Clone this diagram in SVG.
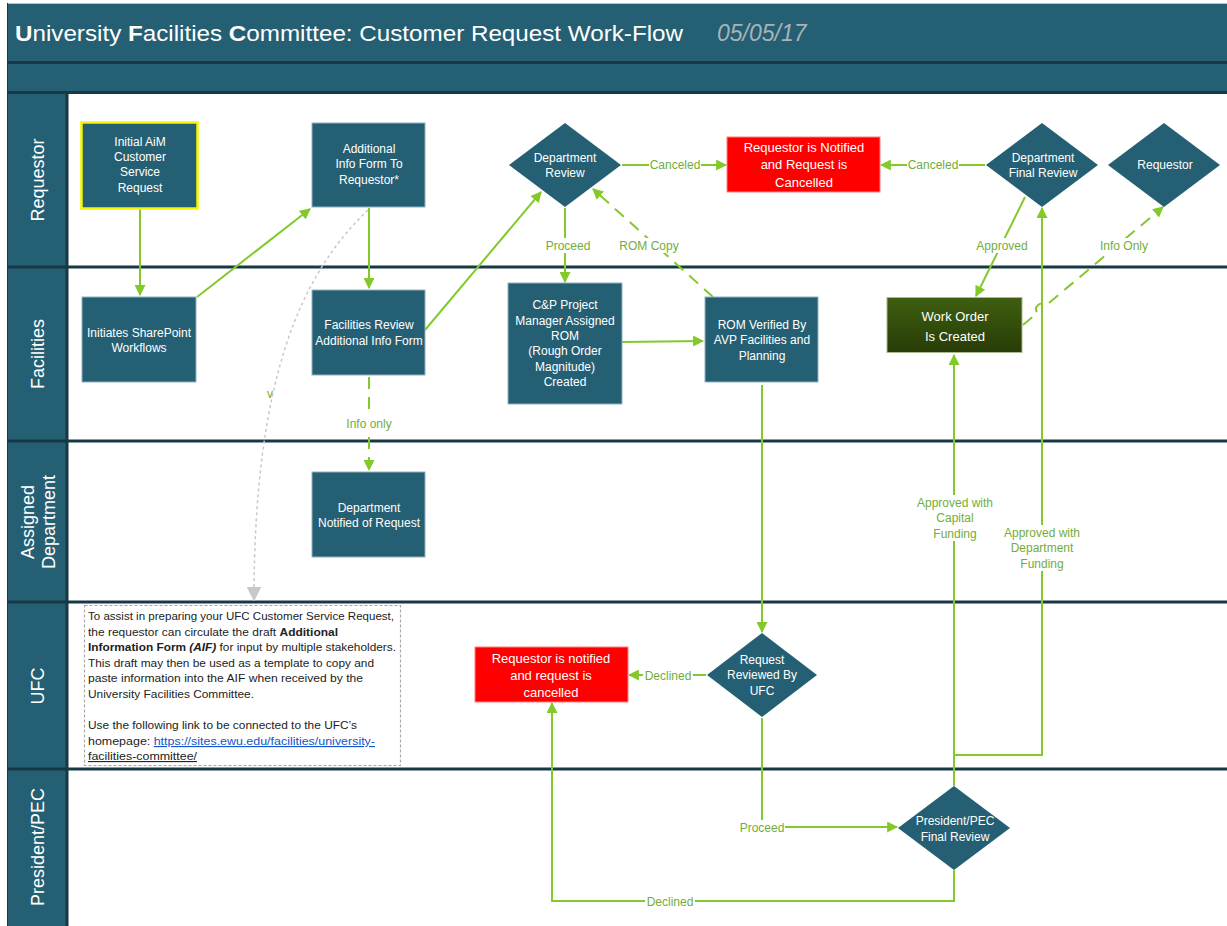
<svg xmlns="http://www.w3.org/2000/svg" width="1227" height="926" viewBox="0 0 1227 926">
<style>
.bg{fill:#ffffff}
.bar{fill:#255f73}
.dl{stroke:#173845;stroke-width:3}
.node{fill:#255f73;stroke:#8fb1bd;stroke-width:1}
.red{fill:#ff0000;stroke:#ff8080;stroke-width:1}
.nt{font-family:"Liberation Sans",Arial,sans-serif;font-size:12px;fill:#ffffff;text-anchor:middle}
.rt{font-family:"Liberation Sans",Arial,sans-serif;font-size:13px;fill:#ffffff;text-anchor:middle}
.lane{font-family:"Liberation Sans",Arial,sans-serif;font-size:18px;fill:#ffffff;text-anchor:middle}
.c{fill:none;stroke:#84c92a;stroke-width:2}
.cd{fill:none;stroke:#84c92a;stroke-width:2;stroke-dasharray:12 8}
.lb{font-family:"Liberation Sans",Arial,sans-serif;font-size:12px;fill:#72ad3a;text-anchor:middle}
.lbbg{fill:#ffffff}
.note{font-family:"Liberation Sans",Arial,sans-serif;font-size:11.3px;fill:#222222}
</style>
<defs>
<marker id="ah" viewBox="0 0 10 10" refX="9" refY="5" markerWidth="5.5" markerHeight="5.5" orient="auto" markerUnits="strokeWidth">
<path d="M0,0 L10,5 L0,10 z" fill="#84c92a"/>
</marker>
<marker id="ag" viewBox="0 0 10 10" refX="9" refY="5" markerWidth="10" markerHeight="10" orient="auto" markerUnits="strokeWidth">
<path d="M0,0 L10,5 L0,10 z" fill="#c8c8c8"/>
</marker>
<linearGradient id="wg" x1="0" y1="0" x2="0" y2="1">
<stop offset="0" stop-color="#3e5f10"/>
<stop offset="1" stop-color="#283c07"/>
</linearGradient>
</defs>
<rect class="bg" x="0" y="0" width="1227" height="926"/>
<g id="frame">
<rect x="7" y="3" width="1220" height="923" fill="#255f73"/>
<rect x="68" y="93" width="1159" height="833" fill="#ffffff"/>
<line x1="7" y1="3.5" x2="1227" y2="3.5" stroke="#b8c4c8" stroke-width="1"/>
<line class="dl" x1="7" y1="62.5" x2="1227" y2="62.5"/>
<line class="dl" x1="7" y1="92.5" x2="1227" y2="92.5"/>
<line class="dl" x1="7" y1="267" x2="1227" y2="267"/>
<line class="dl" x1="7" y1="441" x2="1227" y2="441"/>
<line class="dl" x1="7" y1="602" x2="1227" y2="602"/>
<line class="dl" x1="7" y1="769" x2="1227" y2="769"/>
<line class="dl" x1="67" y1="92" x2="67" y2="926"/>
<line x1="7.5" y1="3" x2="7.5" y2="926" stroke="#173845" stroke-width="1"/>
<text x="15" y="41" font-family="Liberation Sans,Arial,sans-serif" font-size="22" fill="#ffffff" textLength="668" lengthAdjust="spacingAndGlyphs"><tspan font-weight="bold">U</tspan>niversity <tspan font-weight="bold">F</tspan>acilities <tspan font-weight="bold">C</tspan>ommittee: Customer Request Work-Flow</text>
<text x="717" y="41" font-family="Liberation Sans,Arial,sans-serif" font-size="23" font-style="italic" fill="#a9b3b7">05/05/17</text>
<text class="lane" transform="translate(44,180) rotate(-90)">Requestor</text>
<text class="lane" transform="translate(44,354) rotate(-90)">Facilities</text>
<text class="lane" transform="translate(34,522) rotate(-90)">Assigned</text>
<text class="lane" transform="translate(55,522) rotate(-90)">Department</text>
<text class="lane" transform="translate(44,686) rotate(-90)">UFC</text>
<text class="lane" transform="translate(44,847) rotate(-90)">President/PEC</text>
</g>
<g id="connectors">
<path class="c" d="M140,208 L140,295" marker-end="url(#ah)"/>
<path class="c" d="M197,297 L310,209" marker-end="url(#ah)"/>
<path class="c" d="M369,208 L369,288" marker-end="url(#ah)"/>
<path class="c" d="M425,330 L541,192" marker-end="url(#ah)"/>
<path class="c" d="M622,165 L726,165" marker-end="url(#ah)"/>
<path class="c" d="M985,165 L881,165" marker-end="url(#ah)"/>
<path class="c" d="M565,208 L565,282" marker-end="url(#ah)"/>
<path class="cd" d="M713,297 L593,189" marker-end="url(#ah)"/>
<path class="c" d="M622,342 L703,341" marker-end="url(#ah)"/>
<path class="c" d="M762,385 L762,632" marker-end="url(#ah)"/>
<path class="c" d="M706,675 L629,675" marker-end="url(#ah)"/>
<path class="c" d="M762,718 L762,827 L897,827" marker-end="url(#ah)"/>
<path class="c" d="M954,870 L954,901 L552,901 L552,703" marker-end="url(#ah)"/>
<path class="c" d="M954,786 L954,355" marker-end="url(#ah)"/>
<path class="c" d="M954,755 L1042,755 L1042,208" marker-end="url(#ah)"/>
<path class="c" d="M1025,197 L976,296" marker-end="url(#ah)"/>
<path class="cd" d="M1023,325 L1037.5,312.8 A4.5,4.5 0 0 1 1046,305.5 L1163,207" marker-end="url(#ah)"/>
<path class="cd" d="M369,377 L369,470" marker-end="url(#ah)"/>
<path d="M368,210 C300,275 254,380 254,600" fill="none" stroke="#c8c8c8" stroke-width="1.5" stroke-dasharray="3 3" marker-end="url(#ag)"/>
<rect class="lbbg" x="649" y="157" width="52" height="15"/>
<text class="lb" x="675" y="169">Canceled</text>
<rect class="lbbg" x="907" y="157" width="52" height="15"/>
<text class="lb" x="933" y="169">Canceled</text>
<rect class="lbbg" x="545" y="238" width="44" height="15"/>
<text class="lb" x="568" y="250">Proceed</text>
<rect class="lbbg" x="620" y="238" width="58" height="15"/>
<text class="lb" x="649" y="250">ROM Copy</text>
<rect class="lbbg" x="974" y="238" width="56" height="15"/>
<text class="lb" x="1002" y="250">Approved</text>
<rect class="lbbg" x="1098" y="238" width="52" height="15"/>
<text class="lb" x="1124" y="250">Info Only</text>
<rect class="lbbg" x="344" y="416" width="50" height="15"/>
<text class="lb" x="369" y="428">Info only</text>
<text class="lb" x="270" y="398" font-size="10">v</text>
<rect class="lbbg" x="643" y="668" width="50" height="15"/>
<text class="lb" x="668" y="680">Declined</text>
<rect class="lbbg" x="739" y="820" width="46" height="15"/>
<text class="lb" x="762" y="832">Proceed</text>
<rect class="lbbg" x="645" y="894" width="50" height="15"/>
<text class="lb" x="670" y="906">Declined</text>
<rect class="lbbg" x="914" y="495" width="82" height="46"/>
<text class="lb" x="955" y="507">Approved with</text>
<text class="lb" x="955" y="522">Capital</text>
<text class="lb" x="955" y="538">Funding</text>
<rect class="lbbg" x="1001" y="525" width="82" height="46"/>
<text class="lb" x="1042" y="537">Approved with</text>
<text class="lb" x="1042" y="552">Department</text>
<text class="lb" x="1042" y="568">Funding</text>
</g>
<g id="n-initial">
<rect x="81.5" y="122.5" width="116" height="86" fill="#255f73" stroke="#f5f500" stroke-width="2.5"/>
<text class="nt" x="140" y="146">Initial AiM</text>
<text class="nt" x="140" y="161">Customer</text>
<text class="nt" x="140" y="176">Service</text>
<text class="nt" x="140" y="192">Request</text>
</g>
<g id="n-addinfo">
<rect class="node" x="312" y="123" width="113" height="84"/>
<text class="nt" x="369" y="153">Additional</text>
<text class="nt" x="369" y="168">Info Form To</text>
<text class="nt" x="369" y="184">Requestor*</text>
</g>
<g id="n-deptreview">
<polygon points="565,123 621,165 565,207 509,165" fill="#255f73"/>
<text class="nt" x="565" y="162">Department</text>
<text class="nt" x="565" y="177">Review</text>
</g>
<g id="n-cancel1">
<rect class="red" x="727" y="137" width="153" height="55"/>
<text class="rt" x="804" y="152">Requestor is Notified</text>
<text class="rt" x="804" y="169">and Request is</text>
<text class="rt" x="804" y="187">Cancelled</text>
</g>
<g id="n-deptfinal">
<polygon points="1042,123 1098,165 1042,207 986,165" fill="#255f73"/>
<text class="nt" x="1043" y="162">Department</text>
<text class="nt" x="1043" y="177">Final Review</text>
</g>
<g id="n-requestor">
<polygon points="1164,123 1220,165 1164,207 1108,165" fill="#255f73"/>
<text class="nt" x="1165" y="169">Requestor</text>
</g>
<g id="n-sharepoint">
<rect class="node" x="82" y="297" width="114" height="85"/>
<text class="nt" x="139" y="337">Initiates SharePoint</text>
<text class="nt" x="139" y="352">Workflows</text>
</g>
<g id="n-facreview">
<rect class="node" x="312" y="290" width="113" height="85"/>
<text class="nt" x="369" y="329">Facilities Review</text>
<text class="nt" x="369" y="345">Additional Info Form</text>
</g>
<g id="n-cp">
<rect class="node" x="508" y="283" width="114" height="121"/>
<text class="nt" x="565" y="309">C&amp;P Project</text>
<text class="nt" x="565" y="325">Manager Assigned</text>
<text class="nt" x="565" y="340">ROM</text>
<text class="nt" x="565" y="355">(Rough Order</text>
<text class="nt" x="565" y="371">Magnitude)</text>
<text class="nt" x="565" y="386">Created</text>
</g>
<g id="n-romverified">
<rect class="node" x="705" y="297" width="113" height="85"/>
<text class="nt" x="762" y="329">ROM Verified By</text>
<text class="nt" x="762" y="344">AVP Facilities and</text>
<text class="nt" x="762" y="360">Planning</text>
</g>
<g id="n-workorder">
<rect x="887" y="297.5" width="135" height="55" fill="url(#wg)" stroke="#a8b890" stroke-width="1"/>
<text class="rt" x="955" y="321" font-size="14">Work Order</text>
<text class="rt" x="955" y="341" font-size="14">Is Created</text>
</g>
<g id="n-deptnotified">
<rect class="node" x="312" y="472" width="113" height="85"/>
<text class="nt" x="369" y="512">Department</text>
<text class="nt" x="369" y="527">Notified of Request</text>
</g>
<g id="n-note">
<rect x="84.5" y="605.5" width="316" height="160" fill="#ffffff" stroke="#a8a8a8" stroke-width="1.2" stroke-dasharray="3 2"/>
<text class="note" x="88" y="620" textLength="306" lengthAdjust="spacingAndGlyphs">To assist in preparing your UFC Customer Service Request,</text>
<text class="note" x="88" y="636" textLength="250" lengthAdjust="spacingAndGlyphs">the requestor can circulate the draft <tspan font-weight="bold">Additional</tspan></text>
<text class="note" x="88" y="651" textLength="308" lengthAdjust="spacingAndGlyphs"><tspan font-weight="bold">Information Form <tspan font-style="italic">(AIF)</tspan></tspan> for input by multiple stakeholders.</text>
<text class="note" x="88" y="667" textLength="286" lengthAdjust="spacingAndGlyphs">This draft may then be used as a template to copy and</text>
<text class="note" x="88" y="682" textLength="275" lengthAdjust="spacingAndGlyphs">paste information into the AIF when received by the</text>
<text class="note" x="88" y="698" textLength="166" lengthAdjust="spacingAndGlyphs">University Facilities Committee.</text>
<text class="note" x="88" y="729" textLength="269" lengthAdjust="spacingAndGlyphs">Use the following link to be connected to the UFC’s</text>
<text class="note" x="88" y="745" textLength="287" lengthAdjust="spacingAndGlyphs">homepage:  <tspan fill="#1155cc" text-decoration="underline">https://sites.ewu.edu/facilities/university-</tspan></text>
<text class="note" x="88" y="760" fill="#1155cc" text-decoration="underline" textLength="109" lengthAdjust="spacingAndGlyphs">facilities-committee/</text>
</g>
<g id="n-cancel2">
<rect class="red" x="475" y="647" width="153" height="55"/>
<text class="rt" x="551" y="663">Requestor is notified</text>
<text class="rt" x="551" y="680">and request is</text>
<text class="rt" x="551" y="697">cancelled</text>
</g>
<g id="n-ufcreview">
<polygon points="762,633 817,675 762,717 707,675" fill="#255f73"/>
<text class="nt" x="762" y="664">Request</text>
<text class="nt" x="762" y="679">Reviewed By</text>
<text class="nt" x="762" y="695">UFC</text>
</g>
<g id="n-president">
<polygon points="954,786 1010,828 954,870 898,828" fill="#255f73"/>
<text class="nt" x="955" y="825">President/PEC</text>
<text class="nt" x="955" y="841">Final Review</text>
</g>
</svg>
